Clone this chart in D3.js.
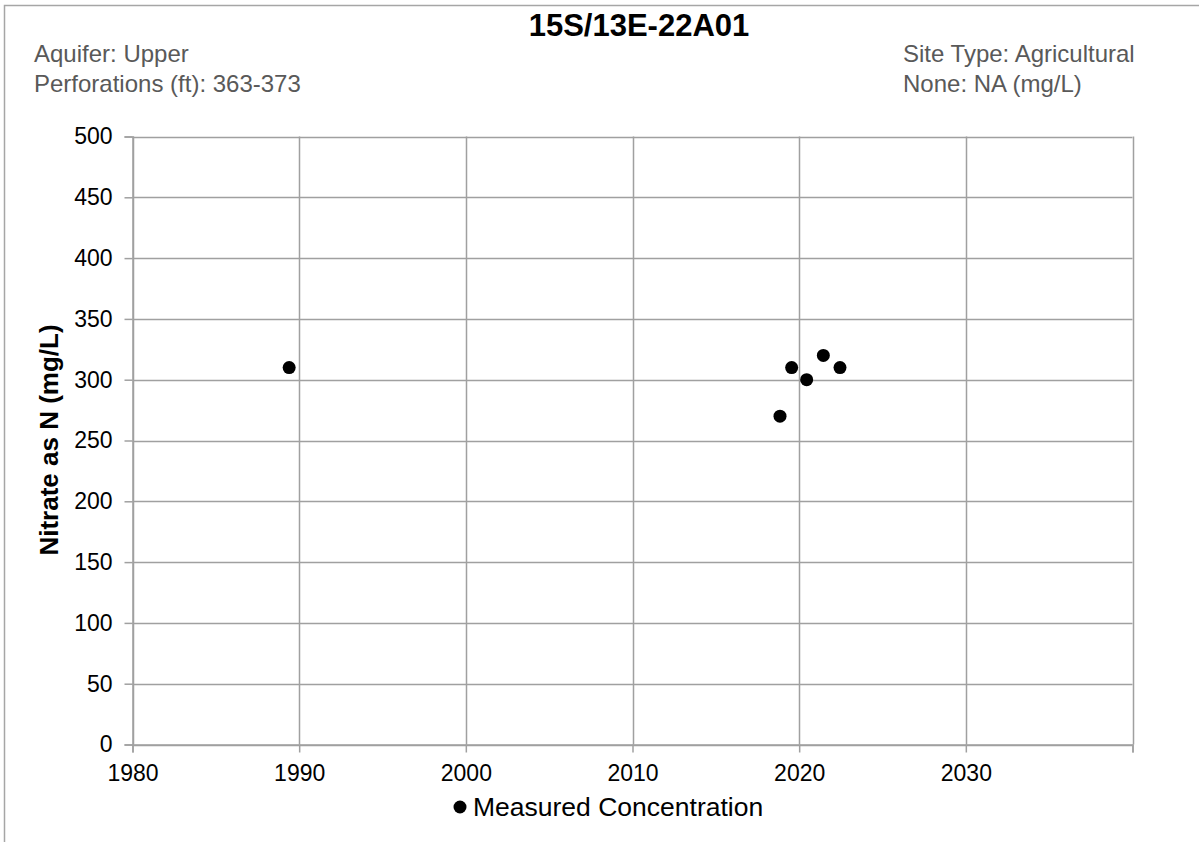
<!DOCTYPE html>
<html><head><meta charset="utf-8">
<script src="https://cdn.jsdelivr.net/npm/d3@7"></script>
<style>
html,body{margin:0;padding:0;background:#fff;}
svg{display:block;font-family:"Liberation Sans",Arial,sans-serif;}
</style></head>
<body>
<svg id="c" width="1199" height="842"></svg>
<script>
const title = "15S/13E-22A01";
const headerLeft = ["Aquifer: Upper", "Perforations (ft): 363-373"];
const headerRight = ["Site Type: Agricultural", "None: NA (mg/L)"];
const yLabel = "Nitrate as N (mg/L)";
const legendLabel = "Measured Concentration";
const sampleYears = [1989.4, 2018.85, 2019.55, 2020.45, 2021.45, 2022.45];
const nitrateValues = [310, 270, 310, 300, 320, 310];
const xTicks = [1980, 1990, 2000, 2010, 2020, 2030, 2040];
const xTickLabels = ["1980", "1990", "2000", "2010", "2020", "2030", ""];
const yTicks = [0, 50, 100, 150, 200, 250, 300, 350, 400, 450, 500];

const svg = d3.select("#c");
const gridCol = "#a0a0a0";
const m = {left: 132.5, right: 1132.5, top: 136.5, bottom: 744.5};

const x = d3.scaleLinear().domain([1980, 2040]).range([m.left, m.right]);
const y = d3.scaleLinear().domain([0, 500]).range([m.bottom, m.top]);

// outer border
svg.append("rect").attr("x", 4.5).attr("y", 5.5).attr("width", 1300).attr("height", 1000)
  .attr("fill", "none").attr("stroke", "#a6a6a6").attr("stroke-width", 1.5);

// gridlines
svg.append("g").selectAll("line").data(yTicks).join("line")
  .attr("x1", m.left).attr("x2", m.right)
  .attr("y1", d => Math.round(y(d)) + 0.5).attr("y2", d => Math.round(y(d)) + 0.5)
  .attr("stroke", gridCol).attr("stroke-width", 1.5);
svg.append("g").selectAll("line").data(xTicks).join("line")
  .attr("y1", m.top).attr("y2", m.bottom)
  .attr("x1", d => Math.round(x(d)) + 0.5).attr("x2", d => Math.round(x(d)) + 0.5)
  .attr("stroke", gridCol).attr("stroke-width", 1.5);

// axes
const xAxis = d3.axisBottom(x).tickValues(xTicks).tickSize(8).tickPadding(12)
  .tickFormat((d, i) => xTickLabels[i]);
const gx = svg.append("g").attr("transform", `translate(0,${m.bottom})`).call(xAxis);
const yAxis = d3.axisLeft(y).tickValues(yTicks).tickSize(8).tickPadding(12)
  .tickFormat(d3.format("d"));
const gy = svg.append("g").attr("transform", `translate(${m.left},0)`).call(yAxis);
[gx, gy].forEach(g => {
  g.select(".domain").attr("stroke", gridCol).attr("stroke-width", 1.5);
  g.selectAll(".tick line").attr("stroke", gridCol).attr("stroke-width", 1.5);
  g.selectAll(".tick text").attr("fill", "#000").style("font-size", "23px")
    .style("font-family", '"Liberation Sans",Arial,sans-serif');
});

// points
svg.append("g").selectAll("circle").data(sampleYears).join("circle")
  .attr("cx", d => x(d)).attr("cy", (d, i) => y(nitrateValues[i]))
  .attr("r", 6.5).attr("fill", "#000");

// title
svg.append("text").attr("x", 639).attr("y", 36).attr("text-anchor", "middle")
  .style("font-size", "31px").style("font-weight", "bold").text(title);

// headers
svg.append("g").selectAll("text").data(headerLeft).join("text")
  .attr("x", 34).attr("y", (d, i) => 62 + i * 30)
  .attr("fill", "#595959").style("font-size", "24px").text(d => d);
svg.append("g").selectAll("text").data(headerRight).join("text")
  .attr("x", 903).attr("y", (d, i) => 62 + i * 30)
  .attr("fill", "#595959").style("font-size", "24px").text(d => d);

// y label
svg.append("text").attr("transform", "translate(58,440) rotate(-90)")
  .attr("text-anchor", "middle").style("font-size", "26px").style("font-weight", "bold")
  .text(yLabel);

// legend
svg.append("circle").attr("cx", 460).attr("cy", 807).attr("r", 6.5).attr("fill", "#000");
svg.append("text").attr("x", 473).attr("y", 816).style("font-size", "26.5px").text(legendLabel);
</script>
</body></html>
